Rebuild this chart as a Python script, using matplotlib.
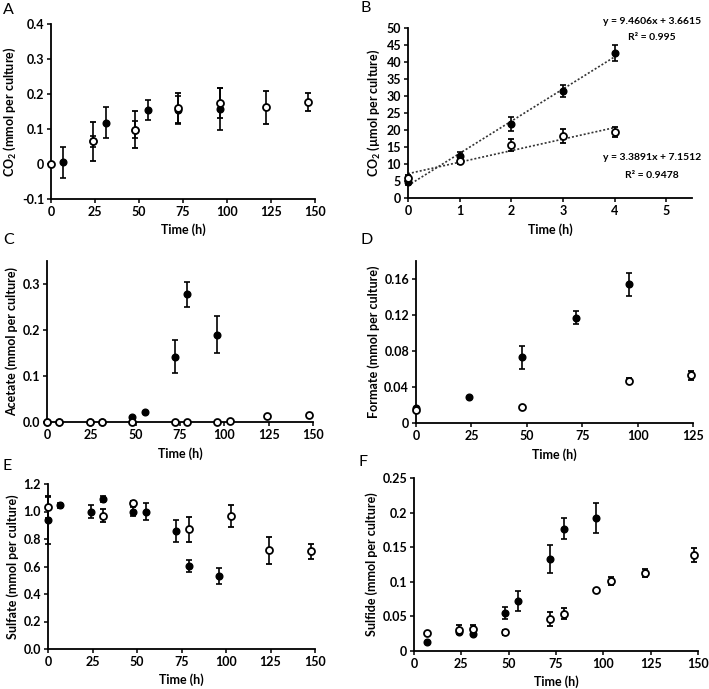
import numpy as np
import matplotlib
matplotlib.use('Agg')
import matplotlib.pyplot as plt

plt.rcParams['font.family'] = ['Lato', 'DejaVu Sans']
plt.rcParams['font.weight'] = 'bold'
plt.rcParams['mathtext.fontset'] = 'custom'
plt.rcParams['mathtext.rm'] = 'Lato:bold'
plt.rcParams['mathtext.bf'] = 'Lato:bold'

# ---------------- data ----------------
# A : CO2 (mmol per culture)
a_fill_t = [7, 24, 31, 48, 55, 72, 96]
a_fill_y = [0.005, 0.065, 0.118, 0.098, 0.155, 0.155, 0.157]
a_fill_e = [0.045, 0.015, 0.045, 0.025, 0.028, 0.04, 0.06]
a_open_t = [0, 24, 48, 72, 96, 122, 146]
a_open_y = [0.0, 0.065, 0.098, 0.16, 0.175, 0.162, 0.177]
a_open_e = [0.0, 0.055, 0.053, 0.042, 0.043, 0.047, 0.025]

# B : CO2 (umol per culture), short time scale
b_t = [0, 1, 2, 3, 4]
b_fill_y = [4.8, 12.3, 21.7, 31.5, 42.7]
b_fill_e = [1.0, 1.2, 2.0, 1.7, 2.3]
b_open_y = [6.0, 10.9, 15.5, 18.3, 19.3]
b_open_e = [0.8, 1.0, 1.8, 2.0, 1.5]
b_fill_fit = (9.4606, 3.6615, 0.995)
b_open_fit = (3.3891, 7.1512, 0.9478)

# C : Acetate
c_fill_t = [0, 7, 24, 31, 48, 55, 72, 79, 96]
c_fill_y = [0, 0, 0, 0, 0.01, 0.022, 0.142, 0.278, 0.19]
c_fill_e = [0, 0, 0, 0, 0, 0, 0.036, 0.027, 0.04]
c_open_t = [0, 7, 24, 31, 48, 72, 79, 96, 103, 124, 148]
c_open_y = [0, 0, 0, 0, 0, 0, 0, 0, 0.003, 0.014, 0.016]
c_open_e = [0, 0, 0, 0, 0, 0, 0, 0, 0, 0, 0]

# D : Formate
d_fill_t = [0, 24, 48, 72, 96]
d_fill_y = [0.017, 0.029, 0.073, 0.117, 0.154]
d_fill_e = [0.0, 0.0, 0.013, 0.007, 0.013]
d_open_t = [0, 48, 96, 124]
d_open_y = [0.014, 0.018, 0.047, 0.053]
d_open_e = [0.0, 0.0, 0.003, 0.005]

# E : Sulfate
e_fill_t = [0, 7, 24, 31, 48, 55, 72, 79, 96]
e_fill_y = [0.935, 1.045, 1.0, 1.09, 1.0, 1.0, 0.86, 0.605, 0.53]
e_fill_e = [0.17, 0.02, 0.05, 0.02, 0.03, 0.065, 0.08, 0.045, 0.06]
e_open_t = [0, 31, 48, 79, 103, 124, 148]
e_open_y = [1.03, 0.97, 1.06, 0.87, 0.968, 0.718, 0.71]
e_open_e = [0.08, 0.045, 0.02, 0.09, 0.08, 0.1, 0.055]

# F : Sulfide
f_fill_t = [7, 24, 31, 48, 55, 72, 79, 96]
f_fill_y = [0.013, 0.028, 0.025, 0.055, 0.072, 0.133, 0.177, 0.192]
f_fill_e = [0.0, 0.0, 0.0, 0.009, 0.014, 0.02, 0.015, 0.022]
f_open_t = [7, 24, 31, 48, 72, 79, 96, 104, 122, 148]
f_open_y = [0.026, 0.031, 0.032, 0.027, 0.046, 0.054, 0.088, 0.101, 0.113, 0.139]
f_open_e = [0.0, 0.007, 0.006, 0.004, 0.01, 0.008, 0.0, 0.006, 0.006, 0.01]


fig = plt.figure(figsize=(7.09, 6.89), dpi=100)
fs = 9
H = 689.0
W = 709.0


def pos_px(l, r, top, bot):
    # axes box from pixel edges
    return [l / W, 1 - bot / H, (r - l) / W, (bot - top) / H]


def make_ax(pos, letter, letter_xy, xlim, xticks, ylim, yticks, ylabels, ylab, xlab_y):
    ax = fig.add_axes(pos)
    ax.set_xlim(xlim)
    ax.set_ylim(ylim)
    ax.set_xticks(xticks)
    ax.set_yticks(yticks)
    ax.set_yticklabels(ylabels)
    ax.spines['top'].set_visible(False)
    ax.spines['right'].set_visible(False)
    for s in ['left', 'bottom']:
        ax.spines[s].set_linewidth(1.3)
    ax.tick_params(direction='out', length=3, width=1.1, labelsize=fs, pad=2)
    for lab in ax.get_xticklabels() + ax.get_yticklabels():
        lab.set_fontweight('bold')
    ax.set_ylabel(ylab, fontsize=fs, fontweight='bold', labelpad=3)
    fig.text(pos[0] + pos[2] / 2, xlab_y, 'Time (h)', ha='center', va='center',
             fontsize=fs, fontweight='bold')
    fig.text(letter_xy[0], letter_xy[1], letter, ha='left', va='center', fontsize=11.5,
             fontweight='normal')
    return ax


def plot_pts(ax, t, y, e, filled):
    if filled:
        ax.errorbar(t, y, yerr=e, fmt='o', ms=4.8, mfc='black', mec='black', color='black',
                    ecolor='black', elinewidth=1.2, capsize=2, capthick=1.2, clip_on=False, zorder=3)
    else:
        ax.errorbar(t, y, yerr=e, fmt='o', ms=5, mfc='white', mec='black', mew=1.3,
                    ecolor='black', elinewidth=1.2, capsize=2, capthick=1.2, clip_on=False, zorder=4)


# A
ax = make_ax(pos_px(51, 315, 24, 199), 'A', (3 / W, 1 - 10 / H), (0, 150), range(0, 151, 25),
             (-0.1, 0.4), [-0.1, 0, 0.1, 0.2, 0.3, 0.4], ['-0.1', '0', '0.1', '0.2', '0.3', '0.4'],
             r'CO$_{\mathbf{2}}$ (mmol per culture)', 1 - 230 / H)
plot_pts(ax, a_fill_t, a_fill_y, a_fill_e, True)
plot_pts(ax, a_open_t, a_open_y, a_open_e, False)

# B
ax = make_ax(pos_px(408, 692, 28, 198), 'B', (360 / W, 1 - 8 / H), (0, 5.5), range(0, 6),
             (0, 50), range(0, 51, 5), [str(v) for v in range(0, 51, 5)],
             r'CO$_{\mathbf{2}}$ (µmol per culture)', 1 - 230 / H)
xx = np.array([0, 4])
for fit in [b_fill_fit, b_open_fit]:
    ax.plot(xx, fit[0] * xx + fit[1], ls=(0, (1.2, 1.2)), color='#333333', lw=1.2, zorder=2)
plot_pts(ax, b_t, b_fill_y, b_fill_e, True)
plot_pts(ax, b_t, b_open_y, b_open_e, False)
fs_eq = 7.5
fig.text(652 / W, 1 - 21 / H, 'y = %.4fx + %.4f' % b_fill_fit[:2], ha='center', va='center', fontsize=fs_eq)
fig.text(652 / W, 1 - 37 / H, 'R² = %g' % b_fill_fit[2], ha='center', va='center', fontsize=fs_eq)
fig.text(652 / W, 1 - 158 / H, 'y = %.4fx + %.4f' % b_open_fit[:2], ha='center', va='center', fontsize=fs_eq)
fig.text(652 / W, 1 - 175 / H, 'R² = %g' % b_open_fit[2], ha='center', va='center', fontsize=fs_eq)

# C
ax = make_ax(pos_px(47, 313, 261, 422), 'C', (3 / W, 1 - 240 / H), (0, 150), range(0, 151, 25),
             (0, 0.35), [0, 0.1, 0.2, 0.3], ['0.0', '0.1', '0.2', '0.3'],
             'Acetate (mmol per culture)', 1 - 454 / H)
plot_pts(ax, c_fill_t, c_fill_y, c_fill_e, True)
plot_pts(ax, c_open_t, c_open_y, c_open_e, False)

# D
ax = make_ax(pos_px(416, 693, 261, 423), 'D', (361 / W, 1 - 240 / H), (0, 125), range(0, 126, 25),
             (0, 0.18), [0, 0.04, 0.08, 0.12, 0.16], ['0', '0.04', '0.08', '0.12', '0.16'],
             'Formate (mmol per culture)', 1 - 455 / H)
plot_pts(ax, d_fill_t, d_fill_y, d_fill_e, True)
plot_pts(ax, d_open_t, d_open_y, d_open_e, False)

# E
ax = make_ax(pos_px(48, 315, 484, 649), 'E', (3 / W, 1 - 466 / H), (0, 150), range(0, 151, 25),
             (0, 1.2), [0, 0.2, 0.4, 0.6, 0.8, 1.0, 1.2], ['0.0', '0.2', '0.4', '0.6', '0.8', '1.0', '1.2'],
             'Sulfate (mmol per culture)', 1 - 680 / H)
plot_pts(ax, e_fill_t, e_fill_y, e_fill_e, True)
plot_pts(ax, e_open_t, e_open_y, e_open_e, False)

# F
ax = make_ax(pos_px(414, 698, 478, 651), 'F', (359 / W, 1 - 462 / H), (0, 150), range(0, 151, 25),
             (0, 0.25), [0, 0.05, 0.1, 0.15, 0.2, 0.25], ['0', '0.05', '0.1', '0.15', '0.2', '0.25'],
             'Sulfide (mmol per culture)', 1 - 682 / H)
plot_pts(ax, f_fill_t, f_fill_y, f_fill_e, True)
plot_pts(ax, f_open_t, f_open_y, f_open_e, False)

plt.savefig('out.png', dpi=100)
